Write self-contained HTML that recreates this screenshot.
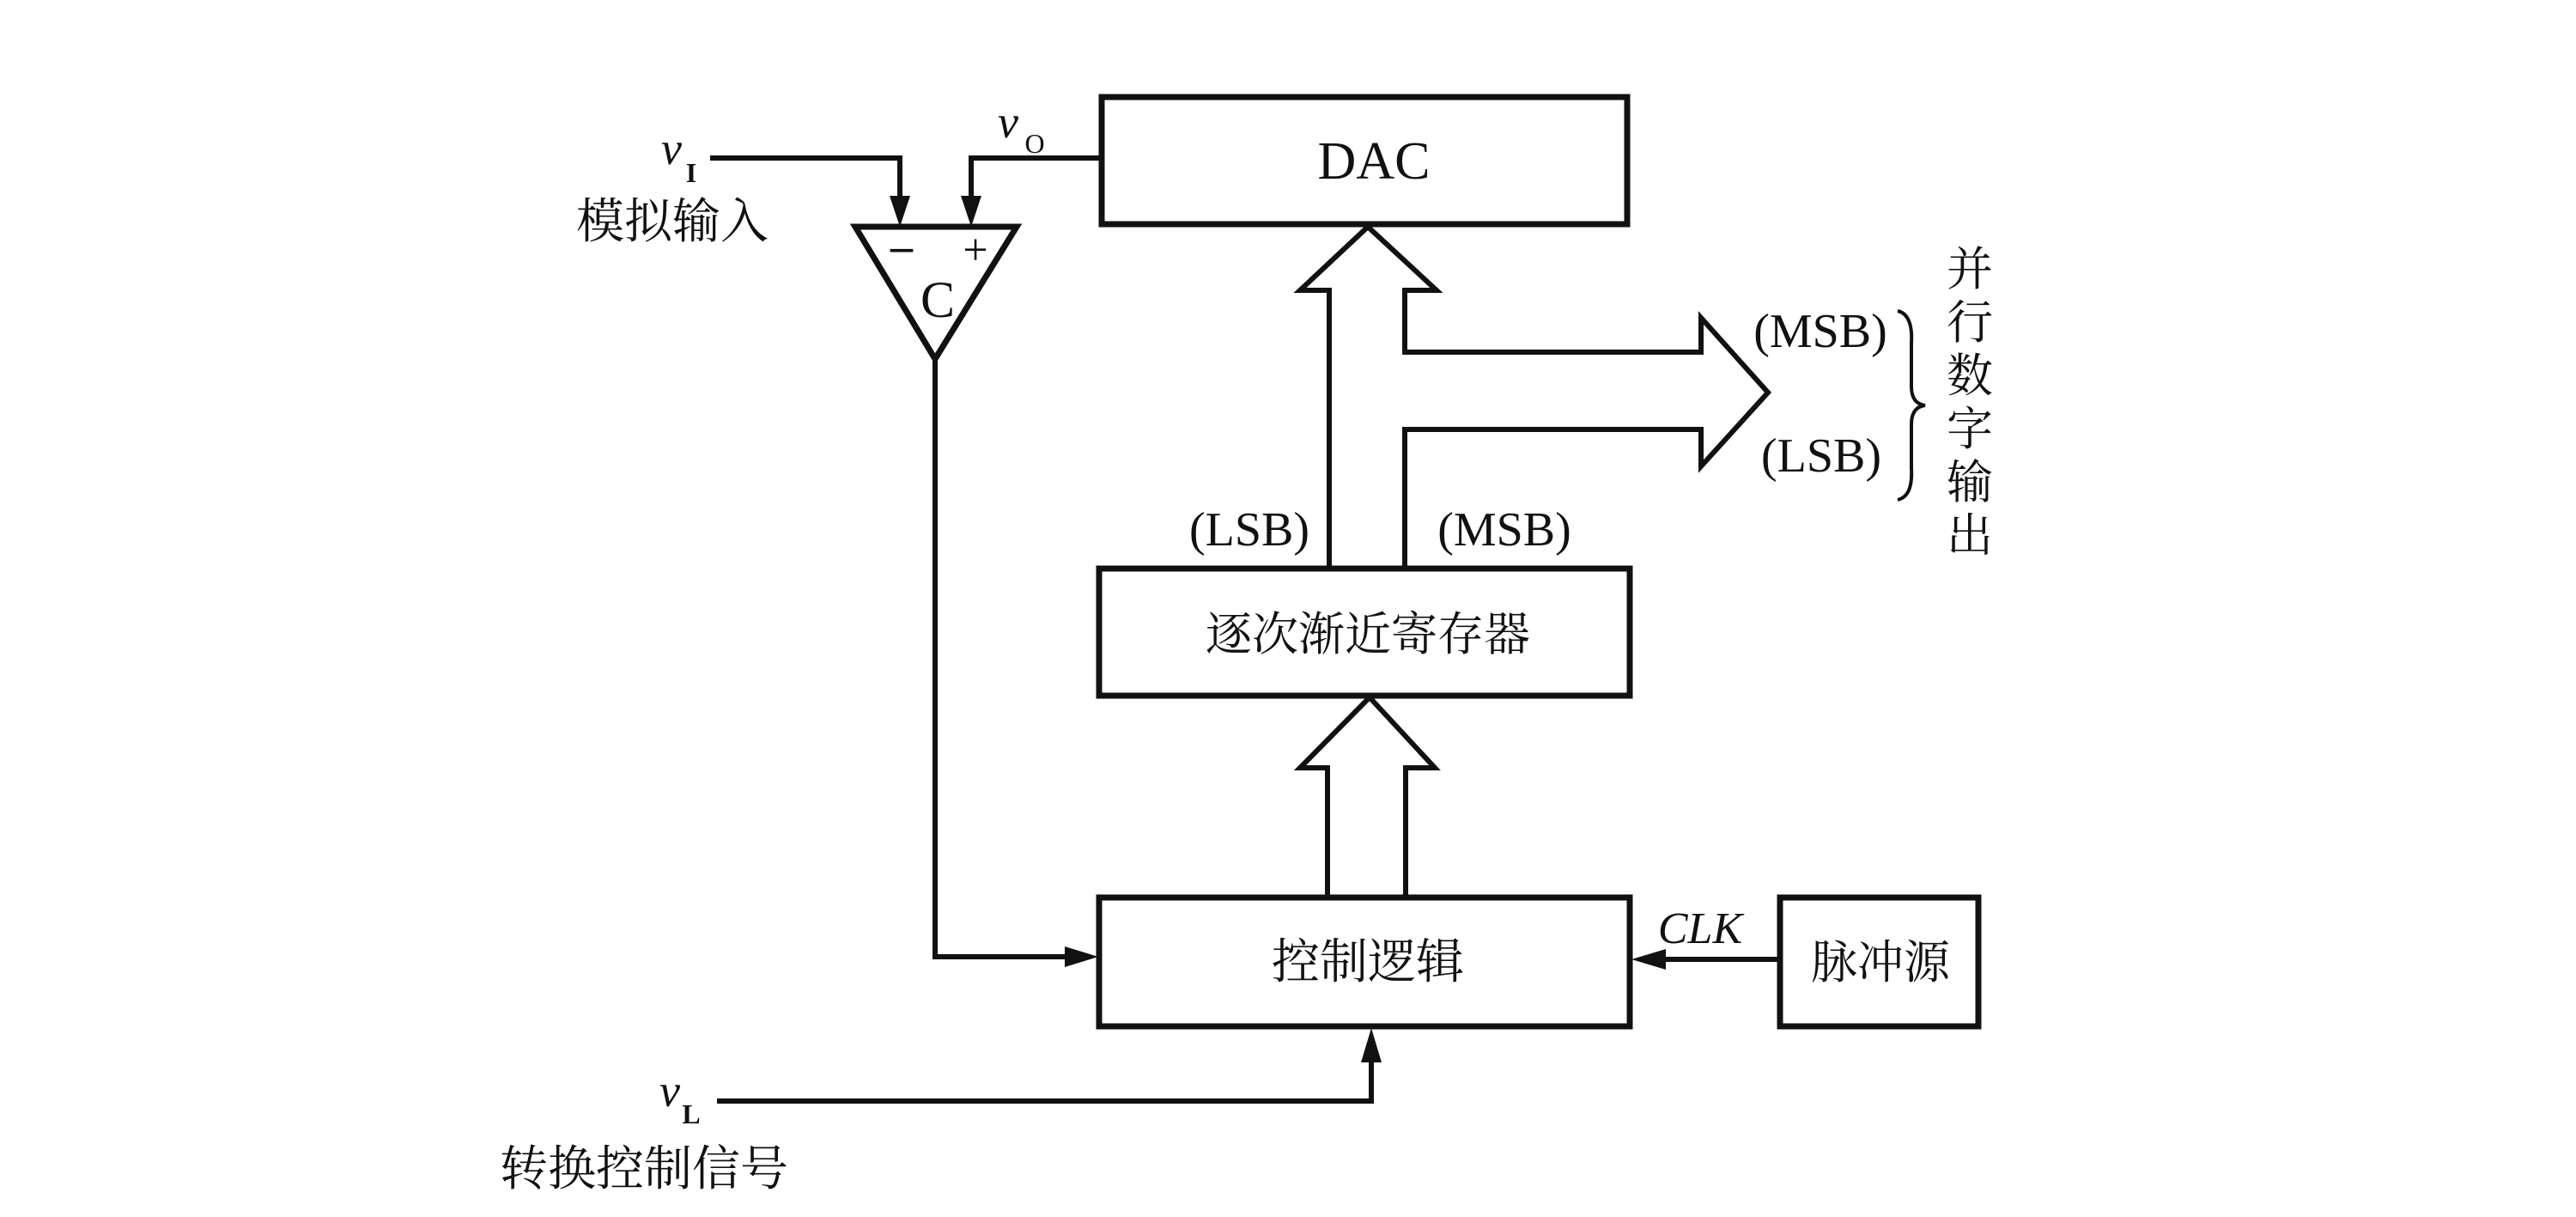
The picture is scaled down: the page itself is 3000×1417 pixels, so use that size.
<!DOCTYPE html>
<html><head><meta charset="utf-8"><style>
html,body{margin:0;padding:0;background:#fff;}
svg{display:block;}
.t{font-family:"Liberation Serif","Noto Serif CJK SC",serif;fill:#111;}
</style></head><body>
<svg width="3000" height="1417" viewBox="0 0 3000 1417" xmlns="http://www.w3.org/2000/svg">
<g fill="none" stroke="#111" stroke-width="7">
<rect x="1283" y="113" width="612" height="148"/>
<rect x="1280" y="662" width="618" height="148"/>
<rect x="1280" y="1045" width="618" height="150"/>
<rect x="2073" y="1045" width="231" height="150"/>
<polygon points="996,264 1184,264 1089,418"/>
</g>
<g fill="none" stroke="#111" stroke-width="6">
<polyline points="827,184 1048,184 1048,232"/>
<polyline points="1283,184 1131,184 1131,232"/>
<polyline points="1089,418 1089,1114 1240,1114"/>
<polyline points="835,1282 1597,1282 1597,1237"/>
<line x1="2073" y1="1117" x2="1938" y2="1117"/>
</g>
<g fill="#111">
<polygon points="1036,228 1060,228 1048,264"/>
<polygon points="1119,228 1143,228 1131,264"/>
<polygon points="1240,1102 1240,1126 1279,1114"/>
<polygon points="1585,1237 1609,1237 1597,1197"/>
<polygon points="1940,1105 1940,1129 1900,1117"/>
</g>
<g fill="none" stroke="#111" stroke-width="6" stroke-linejoin="miter">
<polyline points="1548,659 1548,338 1514,338 1593,264 1673,338 1636,338 1636,410 1981,410 1981,370 2059,457 1981,543 1981,500 1636,500 1636,659"/>
<polyline points="1546,1043 1546,894 1514,894 1595,812 1671,894 1637,894 1637,1043"/>
<path d="M2210,362 Q2228,366 2226,400 L2226,450 Q2226,470 2242,472 Q2226,474 2226,494 L2226,545 Q2228,578 2210,582" stroke-width="4"/>
</g>
<text class="t" x="1600" y="208" font-size="62" text-anchor="middle">DAC</text>
<text class="t" x="1593" y="757" font-size="54" text-anchor="middle">逐次渐近寄存器</text>
<text class="t" x="1593" y="1139" font-size="56" text-anchor="middle">控制逻辑</text>
<text class="t" x="2190" y="1139" font-size="54" text-anchor="middle">脉冲源</text>
<text class="t" x="1980" y="1098" font-size="52" font-style="italic" text-anchor="middle">CLK</text>
<text class="t" x="2120" y="404" font-size="56" text-anchor="middle">(MSB)</text>
<text class="t" x="2121" y="549" font-size="56" text-anchor="middle">(LSB)</text>
<text class="t" x="1455" y="635" font-size="56" text-anchor="middle">(LSB)</text>
<text class="t" x="1752" y="635" font-size="56" text-anchor="middle">(MSB)</text>
<g class="t" font-size="54" text-anchor="middle">
<text x="2294" y="332">并</text>
<text x="2294" y="394">行</text>
<text x="2294" y="456">数</text>
<text x="2294" y="518">字</text>
<text x="2294" y="580">输</text>
<text x="2294" y="642">出</text>
</g>
<text class="t" x="1092" y="369" font-size="60" text-anchor="middle">C</text>
<text class="t" x="1050" y="304" font-size="52" font-weight="bold" text-anchor="middle">–</text>
<text class="t" x="1136" y="308" font-size="52" text-anchor="middle">+</text>
<text class="t" x="782" y="191" font-size="54" font-style="italic" text-anchor="middle">v</text>
<text class="t" x="805" y="212" font-size="32" font-weight="bold" text-anchor="middle">I</text>
<text class="t" x="783" y="277" font-size="56" text-anchor="middle">模拟输入</text>
<text class="t" x="1174" y="160" font-size="54" font-style="italic" text-anchor="middle">v</text>
<text class="t" x="1205" y="178" font-size="32" text-anchor="middle">O</text>
<text class="t" x="780" y="1288" font-size="54" font-style="italic" text-anchor="middle">v</text>
<text class="t" x="805" y="1308" font-size="32" font-weight="bold" text-anchor="middle">L</text>
<text class="t" x="750" y="1380" font-size="56" text-anchor="middle">转换控制信号</text>
</svg>
</body></html>
